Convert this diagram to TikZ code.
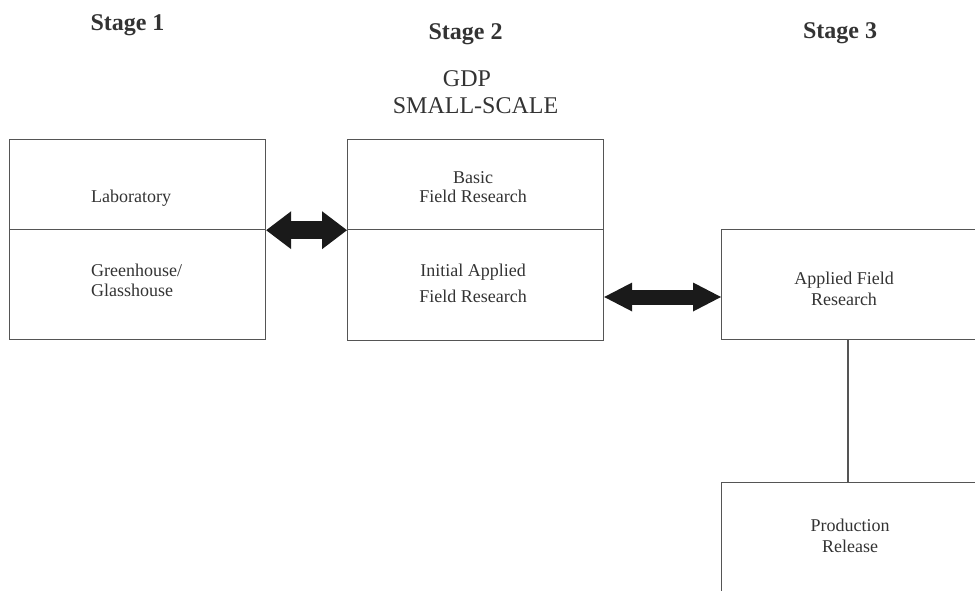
\documentclass[tikz,border=0pt]{standalone}
\usepackage{fontspec}
\setmainfont{Liberation Serif}
\usetikzlibrary{arrows.meta}
\definecolor{linegray}{HTML}{555555}
\definecolor{textgray}{HTML}{333333}
\definecolor{arrowblack}{HTML}{1A1A1A}
\tikzset{
  boxpart/.style={draw=linegray, line width=1.2pt, rectangle, inner sep=0pt, anchor=north west},
  stagelabel/.style={font=\fontsize{24}{28}\selectfont\bfseries, text=textgray, inner sep=0pt, anchor=base},
  headlabel/.style={font=\fontsize{24}{27}\selectfont, text=textgray, inner sep=0pt, anchor=base},
  boxtext/.style={font=\fontsize{18}{20}\selectfont, text=textgray, inner sep=0pt, anchor=base, align=center},
  biarrow/.style={draw=arrowblack, line width=#1},
  link/.style={draw=linegray, line width=1.2pt},
}
\begin{document}
\begin{tikzpicture}[x=1pt, y=-1pt]
\useasboundingbox (0,0) rectangle (975,590);
\clip (0,0) rectangle (975,590);
% stage titles
\node[stagelabel] (s1) at (127.5,30) {Stage 1};
\node[stagelabel] (s2) at (465.5,39) {Stage 2};
\node[stagelabel] (s3) at (840,38) {Stage 3};
\node[headlabel] (gdp) at (467,86) {GDP};
\node[headlabel] (ss) at (475.5,113) {SMALL-SCALE};
% stage 1 box
\node[boxpart, minimum width=256pt, minimum height=90pt] (labtop) at (9,139) {};
\node[boxpart, minimum width=256pt, minimum height=110pt] (labbot) at (9,229) {};
\node[boxtext, anchor=base west] (labt) at (91,202) {Laboratory};
\node[boxtext, anchor=base west, align=left, font=\fontsize{18}{20}\selectfont] (gh) at (91,296) {Greenhouse/\\Glasshouse};
% stage 2 box
\node[boxpart, minimum width=256pt, minimum height=90pt] (midtop) at (347,139) {};
\node[boxpart, minimum width=256pt, minimum height=111pt] (midbot) at (347,229) {};
\node[boxtext, font=\fontsize{18}{19}\selectfont] (bfr) at (473,202) {Basic\\Field Research};
\node[boxtext, font=\fontsize{18}{26}\selectfont] (iafr) at (473,302) {Initial Applied\\Field Research};
% stage 3 boxes
\node[boxpart, minimum width=300pt, minimum height=110pt] (afr) at (721,229) {};
\node[boxtext, font=\fontsize{18}{21}\selectfont] (afrt) at (844,305) {Applied Field\\Research};
\node[boxpart, minimum width=300pt, minimum height=150pt] (prod) at (721,482) {};
\node[boxtext, font=\fontsize{18}{21}\selectfont] (prodt) at (850,552) {Production\\Release};
% connectors
\draw[biarrow=18pt, {Triangle[length=25pt, width=38pt, line width=0pt]}-{Triangle[length=25pt, width=38pt, line width=0pt]}]
  (labtop.south east) -- (midtop.south west);
\draw[biarrow=15pt, {Triangle[length=28pt, width=29pt, line width=0pt]}-{Triangle[length=28pt, width=29pt, line width=0pt]}]
  (midbot.east |- 0,297) -- (afr.west |- 0,297);
\draw[link] (afr.south -| 848,0) -- (prod.north -| 848,0);
\end{tikzpicture}
\end{document}
